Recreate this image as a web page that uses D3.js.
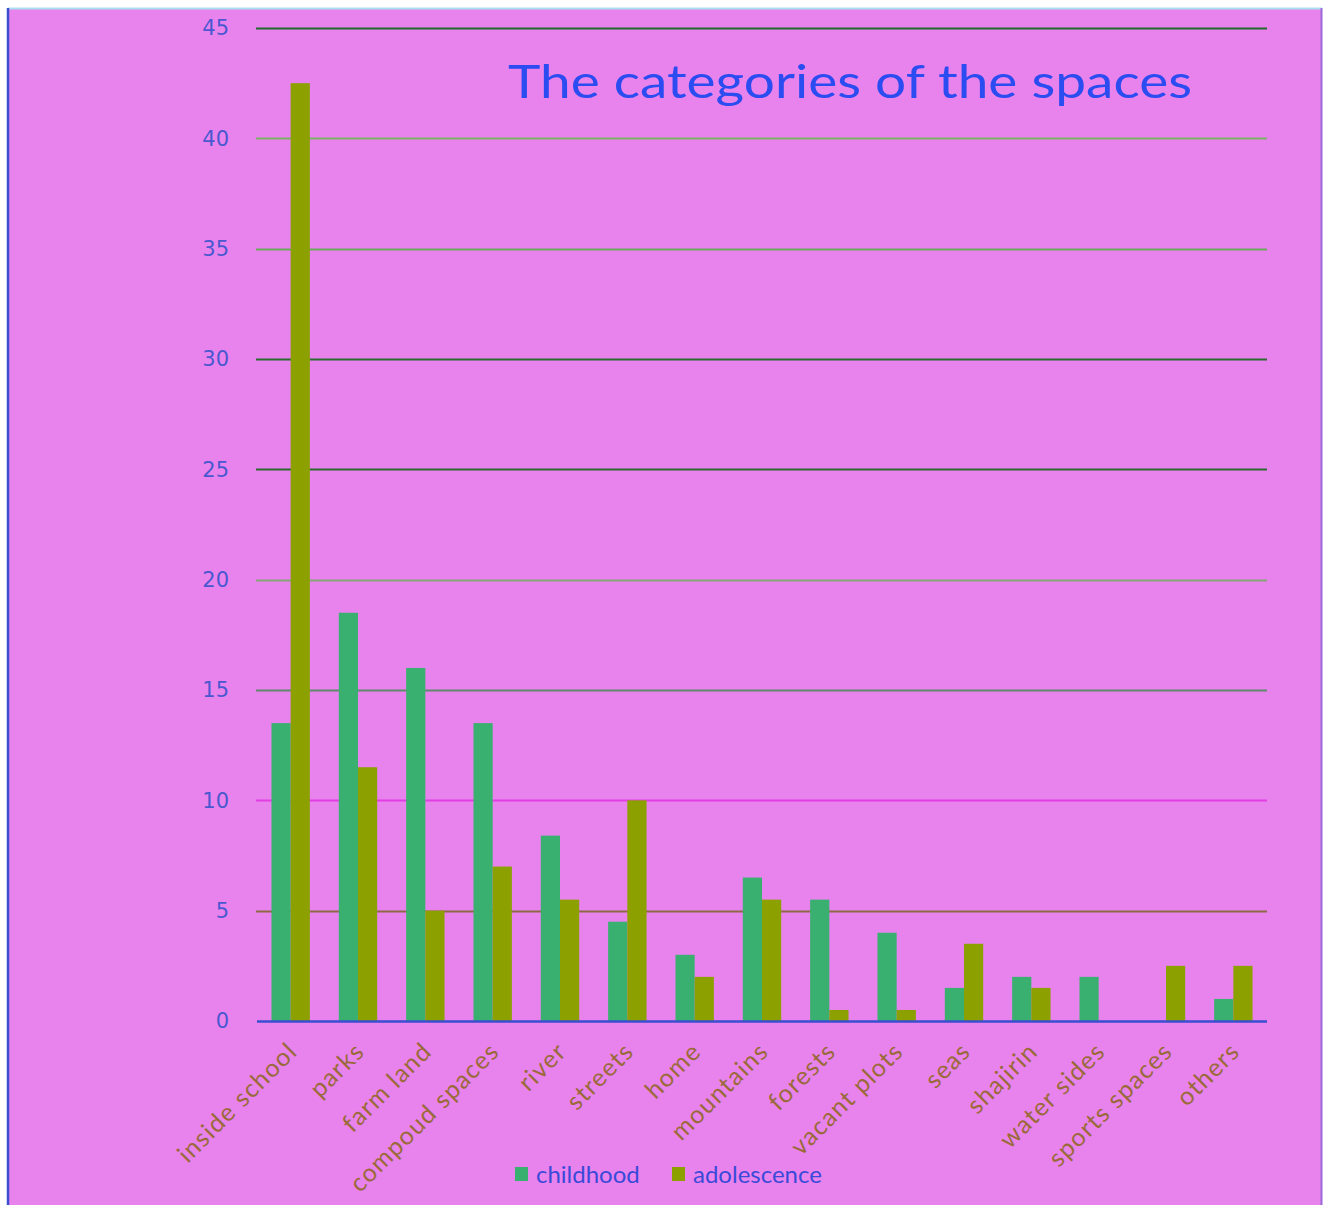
<!DOCTYPE html>
<html>
<head>
<meta charset="utf-8">
<script src="https://cdn.jsdelivr.net/npm/d3@7"></script>
<style>
  html, body { margin: 0; padding: 0; background: #ffffff; }
  svg { display: block; }
</style>
</head>
<body>
<svg id="chart" width="1324" height="1205"></svg>
<script>
// ---- data ----
const categories = ["inside school", "parks", "farm land", "compoud spaces", "river", "streets", "home",
  "mountains", "forests", "vacant plots", "seas", "shajirin", "water sides", "sports spaces", "others"];
const childhood   = [13.5, 18.5, 16, 13.5, 8.4, 4.5, 3, 6.5, 5.5, 4, 1.5, 2, 2, 0, 1];
const adolescence = [42.5, 11.5, 5, 7, 5.5, 10, 2, 5.5, 0.5, 0.5, 3.5, 1.5, 0, 2.5, 2.5];
const seriesNames = ["childhood", "adolescence"];
const yTicks = [0, 5, 10, 15, 20, 25, 30, 35, 40, 45];
const titleText = "The categories of the spaces";

// ---- styles ----
const seriesColors = ["#3ab070", "#8ca000"];
const gridColors = {45: "#1f6a2a", 40: "#7ab264", 35: "#6ca85c", 30: "#2b6a2e", 25: "#2b6a2e",
  20: "#84a674", 15: "#5e8a6a", 10: "#e23ee2", 5: "#8e6a44"};

(function () {
const svg = d3.select("#chart");
const W = 1324, H = 1205;

// background panel
svg.append("rect").attr("x", 8).attr("y", 8).attr("width", W - 10).attr("height", H - 8)
  .attr("fill", "#e883ee");
svg.append("line").attr("x1", 8).attr("x2", W - 2).attr("y1", 8.5).attr("y2", 8.5)
  .attr("stroke", "#a8e0f0").attr("stroke-width", 2);
svg.append("line").attr("x1", 8).attr("x2", 8).attr("y1", 8).attr("y2", H)
  .attr("stroke", "#3a4ed0").attr("stroke-width", 2.5);
svg.append("line").attr("x1", W - 2.5).attr("x2", W - 2.5).attr("y1", 8).attr("y2", H)
  .attr("stroke", "#9a6ad8").attr("stroke-width", 2);

const pLeft = 257, pRight = 1267, pTop = 28, pBottom = 1021;

const x = d3.scaleBand().domain(categories).range([pLeft, pRight]).padding(0);
const y = d3.scaleLinear().domain([0, 45]).range([pBottom, pTop]);

// gridlines
const grid = svg.append("g");
yTicks.filter(t => t > 0).forEach(t => {
  grid.append("line")
    .attr("x1", pLeft - 1).attr("x2", pRight)
    .attr("y1", Math.round(y(t)) + 0.5).attr("y2", Math.round(y(t)) + 0.5)
    .attr("stroke", gridColors[t]).attr("stroke-width", 2);
});

// y axis labels via d3 axis
const yAxis = d3.axisLeft(y).tickValues(yTicks).tickSize(0).tickPadding(0);
const yg = svg.append("g").attr("transform", `translate(${pLeft - 28},0)`).call(yAxis);
yg.select(".domain").remove();
yg.selectAll("text")
  .attr("font-family", "DejaVu Sans, Verdana, sans-serif")
  .attr("font-size", 21)
  .attr("fill", "#4a58d0");

// bars
const barW = x.bandwidth() * 0.285;
const groups = svg.append("g").selectAll("g").data(categories).join("g")
  .attr("transform", d => `translate(${x(d) + x.bandwidth() / 2},0)`);

groups.append("rect")
  .attr("x", -barW)
  .attr("y", (d, i) => y(childhood[i]))
  .attr("width", barW)
  .attr("height", (d, i) => y(0) - y(childhood[i]))
  .attr("fill", seriesColors[0]);

groups.append("rect")
  .attr("x", 0)
  .attr("y", (d, i) => y(adolescence[i]))
  .attr("width", barW)
  .attr("height", (d, i) => y(0) - y(adolescence[i]))
  .attr("fill", seriesColors[1]);

// baseline
svg.append("line").attr("x1", pLeft).attr("x2", pRight)
  .attr("y1", y(0) + 0.5).attr("y2", y(0) + 0.5)
  .attr("stroke", "#3a4ed0").attr("stroke-width", 2.5);

// x labels
const xAxis = d3.axisBottom(x).tickSize(0).tickPadding(0);
const xg = svg.append("g").attr("transform", `translate(0,${pBottom})`).call(xAxis);
xg.select(".domain").remove();
xg.selectAll("text")
  .attr("font-family", "Lato, 'Open Sans', sans-serif")
  .attr("font-size", 25)
  .attr("letter-spacing", 1.2)
  .attr("fill", "#9a6a3a")
  .attr("text-anchor", "end")
  .attr("dy", null)
  .attr("transform", "translate(8,32) rotate(-45)");

// title
svg.append("text")
  .attr("x", 508).attr("y", 98)
  .attr("font-family", "Lato, 'Open Sans', sans-serif")
  .attr("font-size", 47)
  .attr("fill", "#2a4cf0")
  .attr("textLength", 684)
  .attr("lengthAdjust", "spacingAndGlyphs")
  .text(titleText);

// legend
const legendX = [515, 672];
const lg = svg.append("g");
seriesNames.forEach((name, i) => {
  lg.append("rect").attr("x", legendX[i]).attr("y", 1167).attr("width", 13).attr("height", 14)
    .attr("fill", seriesColors[i]);
  lg.append("text").attr("x", legendX[i] + 21).attr("y", 1183)
    .attr("font-family", "Lato, 'Open Sans', sans-serif")
    .attr("font-size", 24)
    .attr("fill", "#3a4ad8")
    .text(name);
});
})();
</script>
</body>
</html>
